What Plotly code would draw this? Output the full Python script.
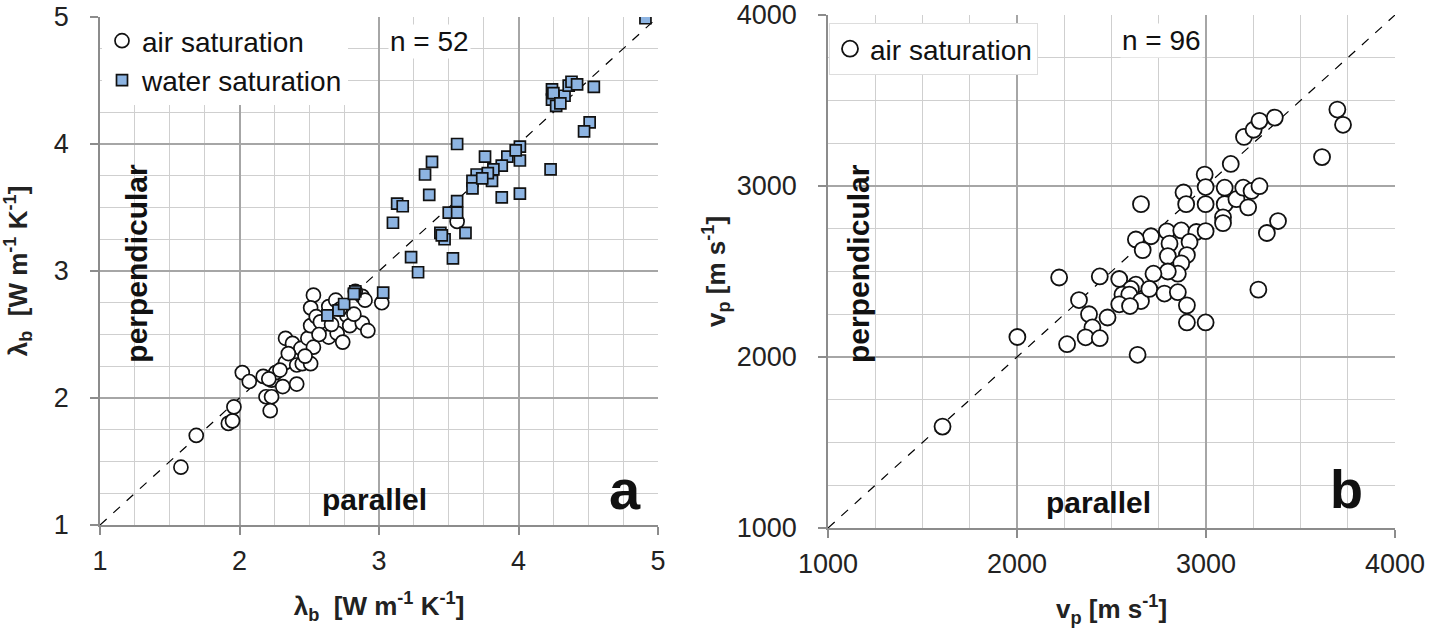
import plotly.graph_objects as go

# ---------------- Panel a data: thermal conductivity ----------------
air_a_par = [1.58, 1.69, 1.92, 1.95, 1.96, 2.02, 2.07, 2.17, 2.19, 2.23, 2.22, 2.23, 2.26,
             2.31, 2.33, 2.33, 2.38, 2.41, 2.41, 2.45, 2.44, 2.49, 2.51, 2.53, 2.53, 2.51,
             2.51, 2.55, 2.60, 2.64, 2.64, 2.69, 2.70, 2.74, 2.77, 2.79, 2.88, 2.90, 2.88,
             2.92, 2.83, 3.02, 3.56, 2.35, 2.47, 2.58, 2.66, 2.72, 2.57, 2.29, 2.82, 2.21]
air_a_perp = [1.455, 1.705, 1.80, 1.82, 1.93, 2.20, 2.13, 2.17, 2.01, 2.01, 1.90, 2.14, 2.20,
              2.09, 2.28, 2.47, 2.43, 2.11, 2.26, 2.27, 2.39, 2.47, 2.27, 2.40, 2.81, 2.71,
              2.57, 2.64, 2.56, 2.48, 2.72, 2.77, 2.51, 2.44, 2.65, 2.57, 2.80, 2.77, 2.59,
              2.53, 2.84, 2.75, 3.39, 2.35, 2.33, 2.60, 2.58, 2.70, 2.50, 2.22, 2.66, 2.15]

water_a_par = [4.91, 4.24, 4.24, 4.27, 4.33, 4.36, 4.38, 4.42, 4.54, 4.51, 4.47, 4.23, 4.01,
               4.01, 4.01, 3.88, 3.56, 3.76, 3.92, 3.88, 3.82, 3.81, 3.78, 3.70, 3.67, 3.67,
               3.38, 3.33, 3.36, 3.13, 3.17, 3.56, 2.63, 2.71, 2.75, 2.83, 3.03, 3.23, 3.28,
               3.53, 3.10, 3.44, 3.47, 3.62, 3.50, 3.56, 4.25, 3.74, 3.98, 3.45, 2.82, 4.30]
water_a_perp = [4.99, 4.43, 4.35, 4.30, 4.38, 4.46, 4.49, 4.47, 4.45, 4.17, 4.10, 3.80, 3.98,
                3.87, 3.61, 3.58, 4.00, 3.90, 3.90, 3.83, 3.80, 3.71, 3.77, 3.76, 3.71, 3.65,
                3.86, 3.76, 3.60, 3.53, 3.51, 3.55, 2.65, 2.69, 2.74, 2.84, 2.83, 3.11, 2.99,
                3.10, 3.38, 3.30, 3.25, 3.30, 3.46, 3.46, 4.40, 3.73, 3.95, 3.28, 2.82, 4.32]

# ---------------- Panel b data: P-wave velocity ----------------
air_b_par = [2656, 2881, 2895, 2993, 2998, 2998, 3099, 3099, 3090, 3090, 3161, 3197, 3223,
             3241, 2793, 2869, 2949, 2998, 2709, 2629, 2665, 2807, 2913, 2798, 2899, 2869,
             2851, 2798, 2722, 2541, 2438, 2328, 2629, 2603, 2558, 2594, 2656, 2700, 2541,
             2598, 2780, 2851, 2899, 2899, 2998, 2381, 2479, 2399, 2363, 2438, 2638, 3277,
             1606, 2002, 2265, 2223, 3131, 3201, 3252, 3283, 3364, 3283, 3322, 3381, 3614,
             3695, 3725]
air_b_perp = [2894, 2962, 2894, 3067, 2994, 2894, 2990, 2894, 2817, 2783, 2923, 2990, 2875,
              2971, 2735, 2740, 2731, 2736, 2706, 2687, 2625, 2663, 2673, 2590, 2596, 2548,
              2487, 2500, 2487, 2456, 2471, 2333, 2423, 2398, 2365, 2365, 2327, 2398, 2308,
              2298, 2371, 2379, 2302, 2202, 2202, 2250, 2231, 2173, 2115, 2110, 2013, 2394,
              1593, 2117, 2075, 2465, 3129, 3287, 3329, 3381, 3400, 2999, 2725, 2795, 3169,
              3447, 3358]

diag_a = [1, 5]
diag_b = [1000, 4000]

FONT = "Liberation Sans, Arial, sans-serif"
EDGE = "#111111"
BLUE = "#8db4e2"

fig = go.Figure()

# Panel a
fig.add_trace(go.Scatter(x=diag_a, y=diag_a, mode="lines", showlegend=False,
                         line=dict(color="black", width=1.2, dash="dash"),
                         xaxis="x", yaxis="y", hoverinfo="skip"))
fig.add_trace(go.Scatter(x=air_a_par, y=air_a_perp, mode="markers", name="air saturation",
                         marker=dict(symbol="circle", size=14, color="white",
                                     line=dict(color=EDGE, width=1.7)),
                         xaxis="x", yaxis="y", legend="legend"))
fig.add_trace(go.Scatter(x=water_a_par, y=water_a_perp, mode="markers", name="water saturation",
                         marker=dict(symbol="square", size=11, color=BLUE,
                                     line=dict(color=EDGE, width=1.7)),
                         xaxis="x", yaxis="y", legend="legend"))

# Panel b
fig.add_trace(go.Scatter(x=diag_b, y=diag_b, mode="lines", showlegend=False,
                         line=dict(color="black", width=1.2, dash="dash"),
                         xaxis="x2", yaxis="y2", hoverinfo="skip"))
fig.add_trace(go.Scatter(x=air_b_par, y=air_b_perp, mode="markers", name="air saturation",
                         marker=dict(symbol="circle", size=16, color="white",
                                     line=dict(color=EDGE, width=1.8)),
                         xaxis="x2", yaxis="y2", legend="legend2"))

W, H = 1430, 633
def px_x(p):
    return p / W
def px_y(p):
    return 1 - p / H

axis_common = dict(
    showline=True, linecolor="#8c8c8c", linewidth=1.5,
    showgrid=True, gridcolor="#a6a6a6", gridwidth=1.5,
    ticks="outside", ticklen=8, tickcolor="#8c8c8c", tickwidth=1.5,
    tickfont=dict(family=FONT, size=27, color="#222222"),
    zeroline=False, mirror=False, automargin=False, ticklabeloverflow="allow",
)
title_font = dict(family=FONT, size=26, color="#222222")

fig.update_layout(
    width=W, height=H,
    margin=dict(l=0, r=0, t=0, b=0, autoexpand=False),
    paper_bgcolor="white", plot_bgcolor="white",
    font=dict(family=FONT, color="#111111"),
    xaxis=dict(domain=[px_x(100), px_x(658)], range=[1, 5], dtick=1, anchor="y",
               minor=dict(dtick=0.25, showgrid=True, gridcolor="#cfcfcf", gridwidth=1.2),
               ticklabelstandoff=3,
               title=dict(text="<b>λ<sub>b</sub>  [W m<sup>-1</sup> K<sup>-1</sup>]</b>",
                          font=title_font, standoff=22),
               **axis_common),
    yaxis=dict(domain=[px_y(525), px_y(17)], range=[1, 5], dtick=1, anchor="x",
               minor=dict(dtick=0.25, showgrid=True, gridcolor="#cfcfcf", gridwidth=1.2),
               ticklabelstandoff=16,
               title=dict(text="<b>λ<sub>b</sub>  [W m<sup>-1</sup> K<sup>-1</sup>]</b>",
                          font=title_font, standoff=30),
               **axis_common),
    xaxis2=dict(domain=[px_x(828), px_x(1395)], range=[1000, 4000], dtick=1000, anchor="y2",
                minor=dict(dtick=250, showgrid=True, gridcolor="#cfcfcf", gridwidth=1.2),
                ticklabelstandoff=3,
                title=dict(text="<b>v<sub>p</sub> [m s<sup>-1</sup>]</b>",
                           font=title_font, standoff=22),
                **axis_common),
    yaxis2=dict(domain=[px_y(528), px_y(15)], range=[1000, 4000], dtick=1000, anchor="x2",
                minor=dict(dtick=250, showgrid=True, gridcolor="#cfcfcf", gridwidth=1.2),
                ticklabelstandoff=16,
                title=dict(text="<b>v<sub>p</sub> [m s<sup>-1</sup>]</b>",
                           font=title_font, standoff=4),
                **axis_common),
    legend=dict(x=px_x(102), y=px_y(16), xanchor="left", yanchor="top",
                bgcolor="white", borderwidth=0,
                font=dict(family=FONT, size=28, color="#111111"),
                itemwidth=30, tracegroupgap=0),
    legend2=dict(x=px_x(829), y=px_y(23), xanchor="left", yanchor="top",
                 bgcolor="white", bordercolor="#dddddd", borderwidth=1,
                 font=dict(family=FONT, size=28, color="#111111"),
                 itemwidth=30),
    showlegend=True,
)

ann_font = dict(family=FONT, size=28, color="#111111")
bold_font = dict(family=FONT, size=30, color="#111111")
annotations = [
    dict(x=3.36, y=4.81, xref="x", yref="y", text="n = 52", showarrow=False,
         font=ann_font, bgcolor="white"),
    dict(x=1.26, y=3.06, xref="x", yref="y", text="<b>perpendicular</b>", showarrow=False,
         font=bold_font, textangle=-90),
    dict(x=2.97, y=1.20, xref="x", yref="y", text="<b>parallel</b>", showarrow=False,
         font=bold_font),
    dict(x=4.76, y=1.28, xref="x", yref="y", text="<b>a</b>", showarrow=False,
         font=dict(family=FONT, size=56, color="#111111")),
    dict(x=2762, y=3848, xref="x2", yref="y2", text="n = 96", showarrow=False,
         font=ann_font, bgcolor="white"),
    dict(x=1164, y=2544, xref="x2", yref="y2", text="<b>perpendicular</b>", showarrow=False,
         font=bold_font, textangle=-90),
    dict(x=2429, y=1152, xref="x2", yref="y2", text="<b>parallel</b>", showarrow=False,
         font=bold_font),
    dict(x=3746, y=1228, xref="x2", yref="y2", text="<b>b</b>", showarrow=False,
         font=dict(family=FONT, size=54, color="#111111")),
]
fig.update_layout(annotations=annotations)

fig.write_html("out.html",
               config={"displayModeBar": False},
               post_script="document.body.style.margin='0';"
                           "document.body.style.overflow='hidden';")
